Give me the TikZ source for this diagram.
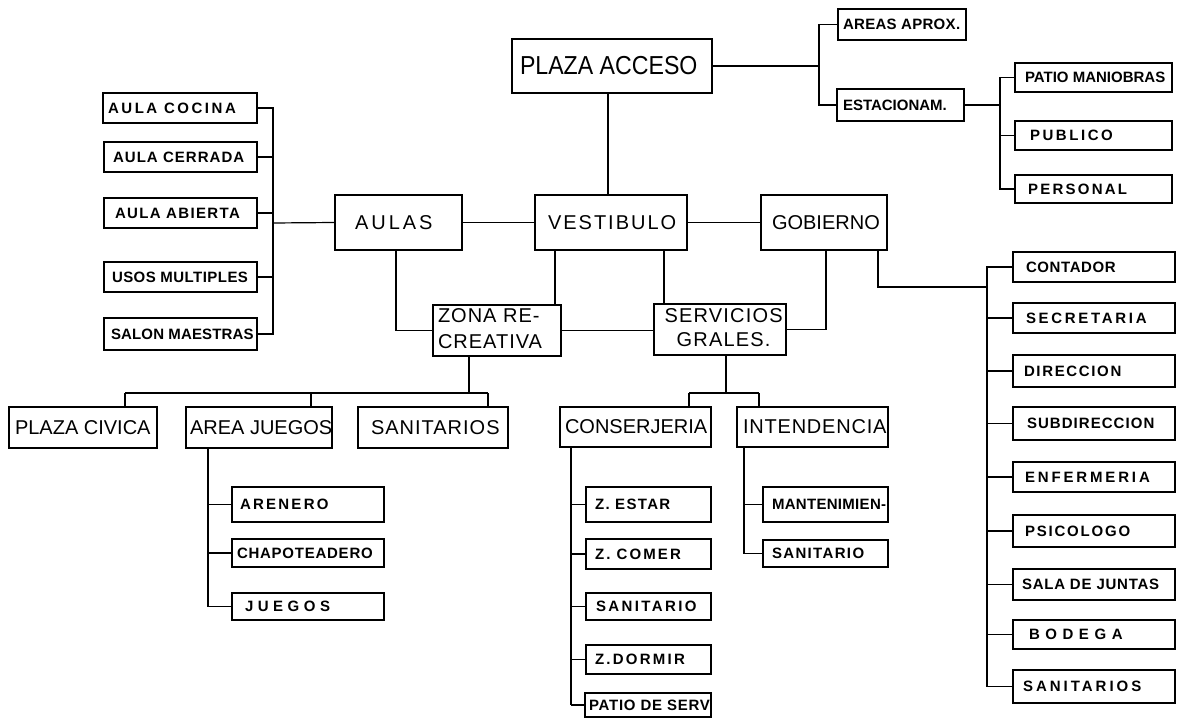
\documentclass[tikz,border=0pt]{standalone}
\usepackage{fontspec}
\setmainfont{Liberation Sans}
\usepackage{graphicx}
\newcommand\mybox[9]{%
  \pgfmathsetmacro\bxw{#4-#2}\pgfmathsetmacro\bxh{#5-#3}%
  \pgfmathsetmacro\bxx{(#2+#4)/2}\pgfmathsetmacro\bxy{(#3+#5)/2}%
  \node[#8, minimum height=\bxh pt, minimum width=\bxw pt] (#1) at (\bxx,\bxy)
    {\makebox[\bxw pt][l]{\hspace*{#6pt}\addfontfeature{LetterSpace=#7}#9}};}
\tikzset{
  box/.style={draw, line width=1.2pt, inner sep=0pt, rectangle},
  huge/.style={box, font=\fontsize{26}{30}\selectfont},
  big/.style={box, font=\fontsize{20}{24}\selectfont},
  small/.style={box, font=\fontsize{15}{18}\selectfont\bfseries},
  link/.style={line width=1.2pt},
}
\begin{document}
\begin{tikzpicture}[x=1pt,y=-1pt]
\fill[white] (0,0) rectangle (1177,719);
\useasboundingbox (0,0) rectangle (1177,719);
% top
\mybox{plaza}{512}{39}{712}{93}{8}{0}{huge}{\scalebox{0.89}[1]{PLAZA ACCESO}}
\mybox{areas}{838}{9}{966}{40}{5}{2}{small}{AREAS APROX.}
\mybox{estac}{837}{89}{964}{121}{6}{0}{small}{ESTACIONAM.}
\mybox{patio}{1015}{63}{1172}{92}{10}{0}{small}{PATIO MANIOBRAS}
\mybox{publico}{1015}{121}{1172}{150}{15}{17}{small}{PUBLICO}
\mybox{personal}{1015}{175}{1172}{203}{13}{15}{small}{PERSONAL}
% left
\mybox{cocina}{103}{93}{257}{123}{5}{17}{small}{AULA COCINA}
\mybox{cerrada}{104}{142}{257}{172}{9}{7}{small}{AULA CERRADA}
\mybox{abierta}{104}{198}{257}{228}{11}{9}{small}{AULA ABIERTA}
\mybox{usos}{104}{262}{257}{292}{8}{3}{small}{USOS MULTIPLES}
\mybox{salon}{104}{318}{257}{350}{7}{1}{small}{SALON MAESTRAS}
% middle
\mybox{aulas}{335}{195}{462}{250}{20}{15}{big}{AULAS}
\mybox{vest}{535}{195}{687}{250}{13}{10}{big}{VESTIBULO}
\mybox{gob}{761}{195}{887}{250}{11}{0}{big}{GOBIERNO}
\mybox{zona}{433}{305}{561}{356}{5}{5}{big}{\begin{tabular}{@{}l@{}}ZONA RE-\\[2pt]CREATIVA\end{tabular}}
\mybox{serv}{654}{304}{786}{355}{10.5}{6}{big}{\begin{tabular}{@{}c@{}}SERVICIOS\\GRALES.\end{tabular}}
% bottom row
\mybox{civica}{9}{407}{157}{448}{6}{0}{big}{PLAZA CIVICA}
\mybox{ajuegos}{186}{407}{332}{448}{4}{0}{big}{AREA JUEGOS}
\mybox{sanit}{358}{407}{508}{448}{13}{5}{big}{SANITARIOS}
\mybox{conserj}{560}{407}{711}{447}{5}{0}{big}{CONSERJERIA}
\mybox{intend}{737}{407}{888}{447}{6}{4}{big}{INTENDENCIA}
% area juegos children
\mybox{arenero}{232}{487}{384}{522}{8}{15}{small}{ARENERO}
\mybox{chapo}{232}{539}{384}{567}{5}{5}{small}{CHAPOTEADERO}
\mybox{juegos}{232}{593}{384}{620}{13}{30}{small}{JUEGOS}
% conserjeria children
\mybox{zestar}{586}{487}{711}{522}{9}{9}{small}{Z. ESTAR}
\mybox{zcomer}{586}{539}{711}{569}{9}{14}{small}{Z. COMER}
\mybox{sanitc}{586}{593}{711}{620}{10}{16}{small}{SANITARIO}
\mybox{zdormir}{586}{645}{711}{674}{9}{15}{small}{Z.DORMIR}
\mybox{patioserv}{585}{693}{711}{717}{4}{5}{small}{PATIO DE SERV}
% intendencia children
\mybox{mant}{763}{487}{888}{522}{9}{2}{small}{MANTENIMIEN-}
\mybox{sanitint}{763}{540}{888}{567}{9}{9}{small}{SANITARIO}
% gobierno children
\mybox{contador}{1013}{252}{1175}{282}{13}{4}{small}{CONTADOR}
\mybox{secret}{1013}{303}{1175}{333}{13}{18}{small}{SECRETARIA}
\mybox{direcc}{1013}{355}{1175}{387}{11}{11}{small}{DIRECCION}
\mybox{subdir}{1013}{407}{1175}{440}{14}{7}{small}{SUBDIRECCION}
\mybox{enferm}{1013}{462}{1175}{492}{12}{19}{small}{ENFERMERIA}
\mybox{psico}{1013}{515}{1175}{547}{12}{12}{small}{PSICOLOGO}
\mybox{sala}{1013}{569}{1175}{600}{9}{5}{small}{SALA DE JUNTAS}
\mybox{bodega}{1013}{620}{1175}{649}{16}{37}{small}{BODEGA}
\mybox{sanits}{1013}{670}{1175}{703}{10}{20}{small}{SANITARIOS}
% junction coordinates
\coordinate (j1) at (819,66);
\coordinate (j2) at (1000,105);
\coordinate (j3) at (273,223);
\coordinate (j4) at (987,287);
\coordinate (p1) at (608,0);
\coordinate (a1) at (396,0);
\coordinate (v1) at (555,0);
\coordinate (v2) at (664,0);
\coordinate (g1) at (878,0);
\coordinate (g2) at (826,0);
\coordinate (b0) at (469,393);
\coordinate (b1) at (125,393);
\coordinate (b2) at (311,393);
\coordinate (b3) at (488,393);
\coordinate (c0) at (726,393);
\coordinate (c1) at (689,393);
\coordinate (c2) at (759,393);
\coordinate (t1) at (208,0);
\coordinate (t2) at (571,0);
\coordinate (t3) at (744,0);
% connectors
\draw[link] (plaza.east) -- (j1);
\draw[link] (areas.west) -| (j1);
\draw[link] (estac.west) -| (j1);
\draw[link] (estac.east) -- (j2);
\foreach \nm in {patio,publico,personal} \draw[link] (\nm.west) -| (j2);
\draw[link] (plaza.south -| p1) -- (vest.north -| p1);
\draw[link] (aulas.east) -- (vest.west);
\draw[link] (vest.east) -- (gob.west);
\draw[link] (aulas.west) -- (j3);
\foreach \nm in {cocina,cerrada,abierta,usos,salon} \draw[link] (\nm.east) -| (j3);
\draw[link] (aulas.south -| a1) |- (zona.west);
\draw[link] (vest.south -| v1) -- (zona.north -| v1);
\draw[link] (vest.south -| v2) -- (serv.north -| v2);
\draw[link] (zona.east) -- (zona.east -| serv.west);
\draw[link] (serv.east) -| (gob.south -| g2);
\draw[link] (gob.south -| g1) |- (j4);
\foreach \nm in {contador,secret,direcc,subdir,enferm,psico,sala,bodega,sanits} \draw[link] (\nm.west) -| (j4);
\draw[link] (zona.south -| b0) -- (b0);
\draw[link] (b1) -- (b3);
\draw[link] (b1) -- (b1 |- civica.north);
\draw[link] (b2) -- (b2 |- ajuegos.north);
\draw[link] (b3) -- (b3 |- sanit.north);
\draw[link] (serv.south -| c0) -- (c0);
\draw[link] (c1) -- (c2);
\draw[link] (c1) -- (c1 |- conserj.north);
\draw[link] (c2) -- (c2 |- intend.north);
\draw[link] (ajuegos.south -| t1) -- (t1 |- juegos.west);
\foreach \nm in {arenero,chapo,juegos} \draw[link] (\nm.west) -- (\nm.west -| t1);
\draw[link] (conserj.south -| t2) -- (t2 |- patioserv.west);
\foreach \nm in {zestar,zcomer,sanitc,zdormir,patioserv} \draw[link] (\nm.west) -- (\nm.west -| t2);
\draw[link] (intend.south -| t3) -- (t3 |- sanitint.west);
\foreach \nm in {mant,sanitint} \draw[link] (\nm.west) -- (\nm.west -| t3);
\end{tikzpicture}
\end{document}
